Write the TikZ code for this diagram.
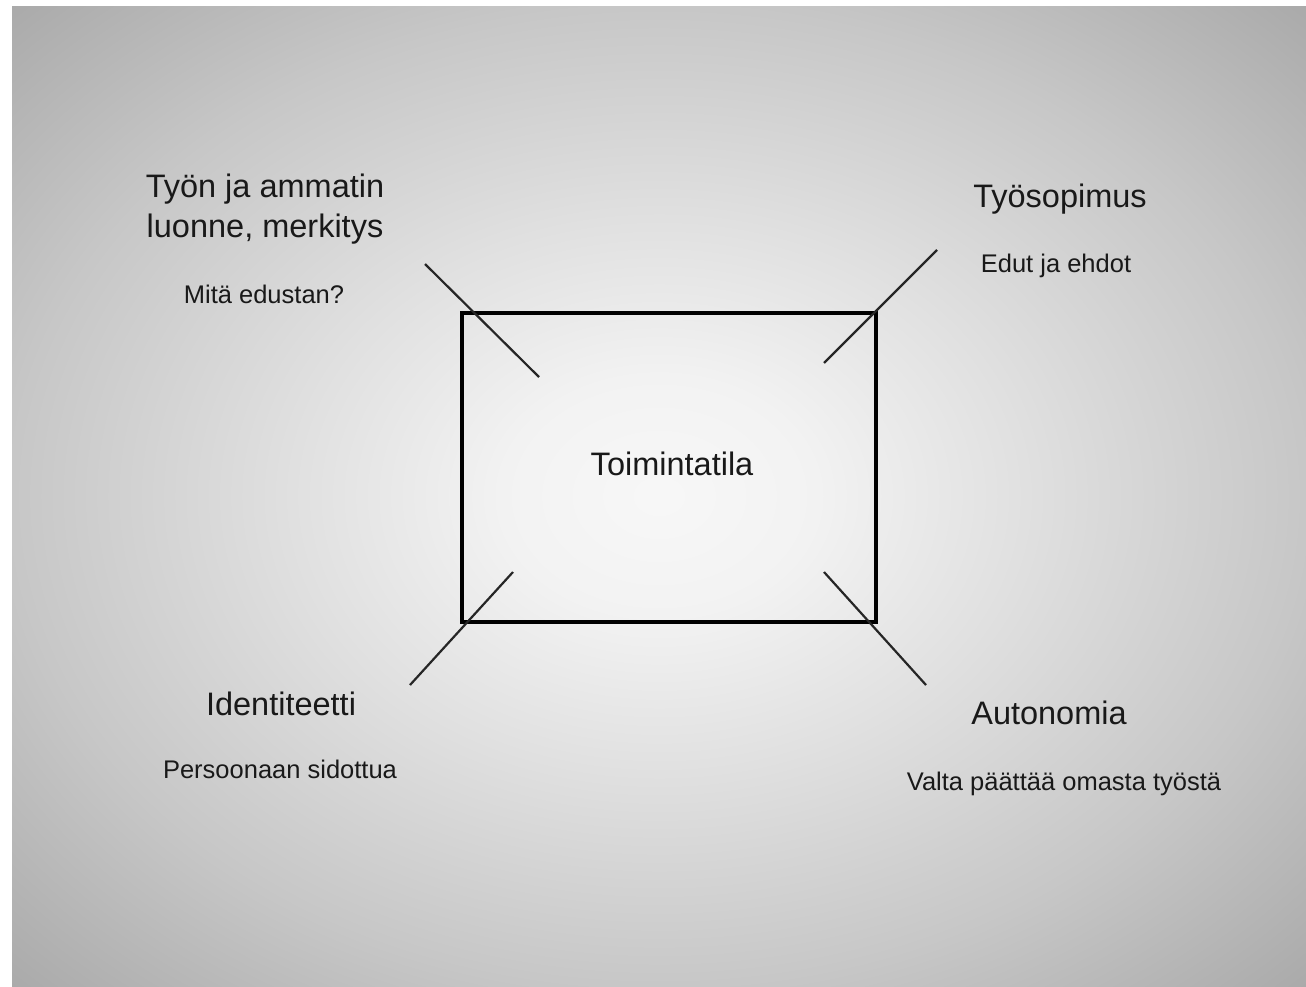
\documentclass[tikz,border=0pt]{standalone}
\usepackage{fontspec}
\setmainfont{Liberation Sans}
\pgfdeclareradialshading{bgshade}{\pgfpoint{0bp}{0bp}}{%
  color(0bp)=(white!97!black);
  color(6bp)=(white!95!black);
  color(14bp)=(white!88!black);
  color(25bp)=(white!78!black);
  color(36bp)=(white!66!black);
  color(50bp)=(white!66!black)}
\begin{document}
\begin{tikzpicture}[x=1pt,y=-1pt,
  bigtxt/.style={anchor=base, align=center, font=\fontsize{32.5}{39.5}\selectfont, text=black!90},
  smalltxt/.style={anchor=base, align=center, font=\fontsize{25.5}{30}\selectfont, text=black!90},
  spoke/.style={line width=2.2pt, black!85},
  frame/.style={draw=black, line width=4pt, minimum width=414pt, minimum height=309pt, inner sep=0pt}]
\useasboundingbox (0,0) rectangle (1306,986);
\fill[white] (0,0) rectangle (1306,986);
\shade[shading=bgshade] (12,6) rectangle (1306,986);
% central frame
\node[frame] (box) at (669,467.5) {};
\node[bigtxt] (centre) at (672,475) {Toimintatila};
% spokes
\coordinate (tlA) at (425,264); \coordinate (tlB) at (539,377);
\coordinate (trA) at (937,250); \coordinate (trB) at (824,363);
\coordinate (blA) at (513,572); \coordinate (blB) at (410,685);
\coordinate (brA) at (824,572); \coordinate (brB) at (926,685);
\draw[spoke] (tlA) -- (tlB);
\draw[spoke] (trA) -- (trB);
\draw[spoke] (blA) -- (blB);
\draw[spoke] (brA) -- (brB);
% labels
\node[bigtxt] (tyon) at (265,237) {Työn ja ammatin\\luonne, merkitys};
\node[smalltxt] (mita) at (264,303) {Mitä edustan?};
\node[bigtxt] (sopimus) at (1060,207) {Työsopimus};
\node[smalltxt] (edut) at (1056,272) {Edut ja ehdot};
\node[bigtxt] (ident) at (281,715) {Identiteetti};
\node[smalltxt] (pers) at (280,778) {Persoonaan sidottua};
\node[bigtxt] (auto) at (1049,724) {Autonomia};
\node[smalltxt] (valta) at (1064,790) {Valta päättää omasta työstä};
\end{tikzpicture}
\end{document}
